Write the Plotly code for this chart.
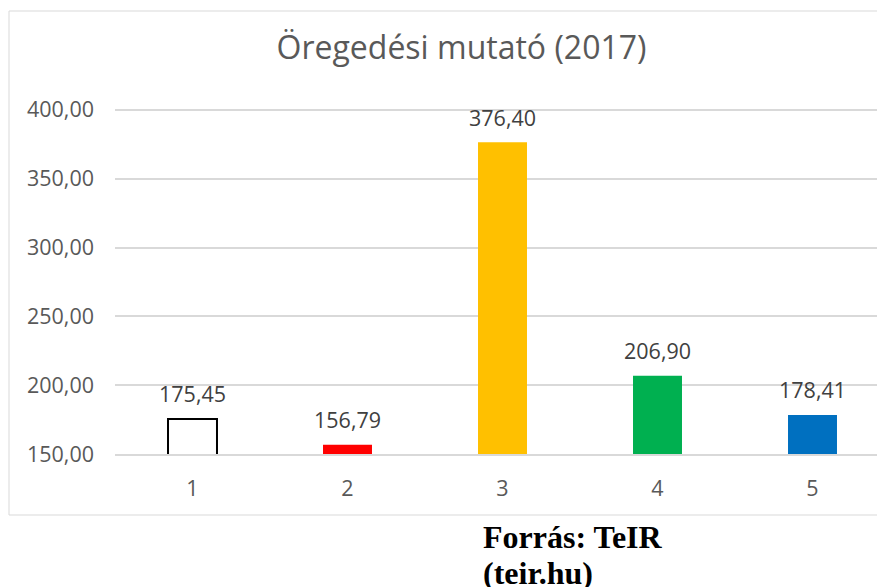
import plotly.graph_objects as go

categories = ["1", "2", "3", "4", "5"]
values = [175.45, 156.79, 376.40, 206.90, 178.41]
bar_colors = ["#FFFFFF", "#FF0000", "#FFC000", "#00B050", "#0070C0"]
line_colors = ["#000000", "#FF0000", "#FFC000", "#00B050", "#0070C0"]
line_widths = [2, 0, 0, 0, 0]
y_ticks = [150, 200, 250, 300, 350, 400]
title_text = "Öregedési mutató (2017)"
source_lines = ["Forrás: TeIR", "(teir.hu)"]

OFF = 8  # default page body margin
W, H = 885 - OFF, 587 - OFF
ML, MR, MT, MB = 115 - OFF, 0, 103 - OFF, 133
PW = W - ML - MR
PH = H - MT - MB

def px(xp):
    return (xp - OFF - ML) / PW

def py(yp):
    return (H - MB - (yp - OFF)) / PH

fig = go.Figure()
fig.add_trace(go.Bar(
    x=categories, y=values,
    marker=dict(color=bar_colors, line=dict(color=line_colors, width=line_widths)),
    width=0.316,
    hoverinfo="skip",
))

for i, v in enumerate(values):
    fig.add_annotation(
        x=i, y=v, xref="x", yref="y",
        text=f"{v:.2f}".replace(".", ","),
        showarrow=False, yanchor="middle", yshift=25,
        font=dict(family="Open Sans", size=21.5, color="#404040"),
    )

fig.add_shape(type="rect", xref="paper", yref="paper",
              x0=px(9), x1=px(900), y0=py(515), y1=py(11),
              line=dict(color="#D9D9D9", width=1), fillcolor="rgba(0,0,0,0)", layer="below")

for t, yy in zip(source_lines, [537, 573]):
    fig.add_annotation(
        x=px(481), y=py(yy), xref="paper", yref="paper",
        text=f"<b>{t}</b>", showarrow=False, xanchor="left", yanchor="middle",
        font=dict(family="Liberation Serif", size=32, color="#000000"),
    )

fig.update_layout(
    width=W, height=H,
    margin=dict(l=ML, r=MR, t=MT, b=MB, pad=0),
    paper_bgcolor="white", plot_bgcolor="white",
    separators=", ",
    showlegend=False,
    title=dict(text=title_text, x=(461.5 - OFF) / W, xref="container", xanchor="center",
               y=1 - (48 - OFF) / H, yref="container", yanchor="middle",
               font=dict(family="Open Sans", size=32, color="#595959")),
    xaxis=dict(type="category", range=[-0.5, 4.5 - 5 / 155], showgrid=False,
               showline=True, linecolor="#D9D9D9", linewidth=1.5,
               ticks="", ticklabelstandoff=14,
               tickfont=dict(family="Open Sans", size=21.5, color="#595959")),
    yaxis=dict(range=[150, 405], tickvals=y_ticks, tickformat=".2f",
               showgrid=True, gridcolor="#D9D9D9", gridwidth=1.5,
               zeroline=False, showline=False, ticks="", ticklabelstandoff=20,
               tickfont=dict(family="Open Sans", size=21.5, color="#595959")),
)

fig.write_html("out.html")
